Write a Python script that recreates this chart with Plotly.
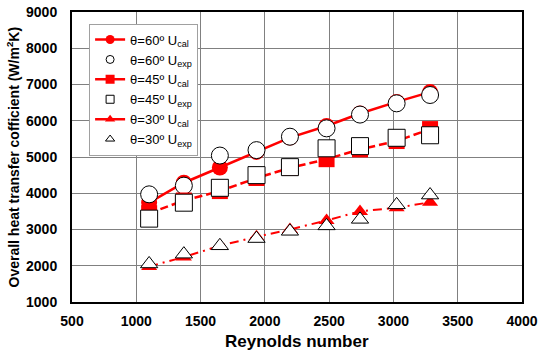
import plotly.graph_objects as go

re_vals = [1100, 1370, 1650, 1935, 2195, 2480, 2740, 3025, 3285]

u_cal_60 = [3740, 4290, 4710, 5140, 5535, 5855, 6200, 6520, 6790]
u_exp_60 = [3970, 4210, 5040, 5190, 5560, 5790, 6170, 6480, 6710]
u_cal_45 = [3450, 3800, 4060, 4420, 4700, 4940, 5210, 5440, 5770]
u_exp_45 = [3300, 3740, 4150, 4500, 4720, 5240, 5300, 5530, 5600]
u_cal_30 = [1980, 2240, 2550, 2800, 3000, 3250, 3500, 3600, 3750]
u_exp_30 = [2050, 2320, 2550, 2750, 2950, 3100, 3280, 3680, 3950]

labels = ["θ=60º U<sub>cal</sub>", "θ=60º U<sub>exp</sub>",
          "θ=45º U<sub>cal</sub>", "θ=45º U<sub>exp</sub>",
          "θ=30º U<sub>cal</sub>", "θ=30º U<sub>exp</sub>"]

red = "#ff0000"
fig = go.Figure()

def marker_size(sym, base):
    return base - 2 if sym == "triangle-up" else base

def cal(y, name, sym, dash, lw):
    fig.add_trace(go.Scatter(x=re_vals, y=y, name=name, mode="lines+markers",
                             showlegend=False, hoverinfo="skip",
                             line=dict(color=red, width=lw, dash=dash),
                             marker=dict(symbol=sym, size=marker_size(sym, 16), color=red)))
    fig.add_trace(go.Scatter(x=[None], y=[None], name=name, mode="lines+markers",
                             line=dict(color=red, width=2.5, dash="solid"),
                             marker=dict(symbol=sym, size=9, color=red)))

def exp(y, name, sym):
    fig.add_trace(go.Scatter(x=re_vals, y=y, name=name, mode="markers",
                             showlegend=False, hoverinfo="skip",
                             marker=dict(symbol=sym, size=marker_size(sym, 17), color="white",
                                         line=dict(color="black", width=1))))
    fig.add_trace(go.Scatter(x=[None], y=[None], name=name, mode="markers",
                             marker=dict(symbol=sym, size=8, color="white",
                                         line=dict(color="black", width=1))))

cal(u_cal_60, labels[0], "circle", "solid", 2.5)
exp(u_exp_60, labels[1], "circle")
cal(u_cal_45, labels[2], "square", "8px,4px", 2.5)
exp(u_exp_45, labels[3], "square")
cal(u_cal_30, labels[4], "triangle-up", "9px,5px,2px,5px", 2)
exp(u_exp_30, labels[5], "triangle-up")

font = "Liberation Sans, Arial, sans-serif"
axis_common = dict(showgrid=True, gridcolor="#808080", gridwidth=1,
                   showline=True, linecolor="black", linewidth=2, mirror=True,
                   ticks="", zeroline=False, automargin=False,
                   tickfont=dict(size=14, family=font, weight="bold"))
fig.update_layout(
    width=539, height=353,
    margin=dict(l=72, r=17, t=12, b=51),
    paper_bgcolor="white", plot_bgcolor="white",
    font=dict(family=font, color="black"),
    showlegend=True,
    hovermode=False,
    legend=dict(x=0.038, y=0.96, xanchor="left", yanchor="top",
                bgcolor="white", bordercolor="#a0a0a0", borderwidth=1,
                font=dict(size=13, family=font), itemwidth=30,
                tracegroupgap=0),
    xaxis=dict(range=[500, 4000], dtick=500, ticklabelstandoff=5, **axis_common),
    yaxis=dict(range=[1000, 9000], dtick=1000, ticklabelstandoff=10, **axis_common),
    annotations=[
        dict(text="<b>Reynolds number</b>", xref="paper", yref="paper",
             x=0.5, y=-0.135, xanchor="center", yanchor="middle", showarrow=False,
             font=dict(size=17, family=font)),
        dict(text="<b>Overall heat transfer cofficient (W/m<sup>2</sup>K)</b>",
             xref="paper", yref="paper", x=-0.13, y=0.5, textangle=-90,
             xanchor="center", yanchor="middle", showarrow=False,
             font=dict(size=14, family=font)),
    ],
)

fig.write_html("out.html", config={"displayModeBar": False},
               post_script="document.body.style.margin='0';")
